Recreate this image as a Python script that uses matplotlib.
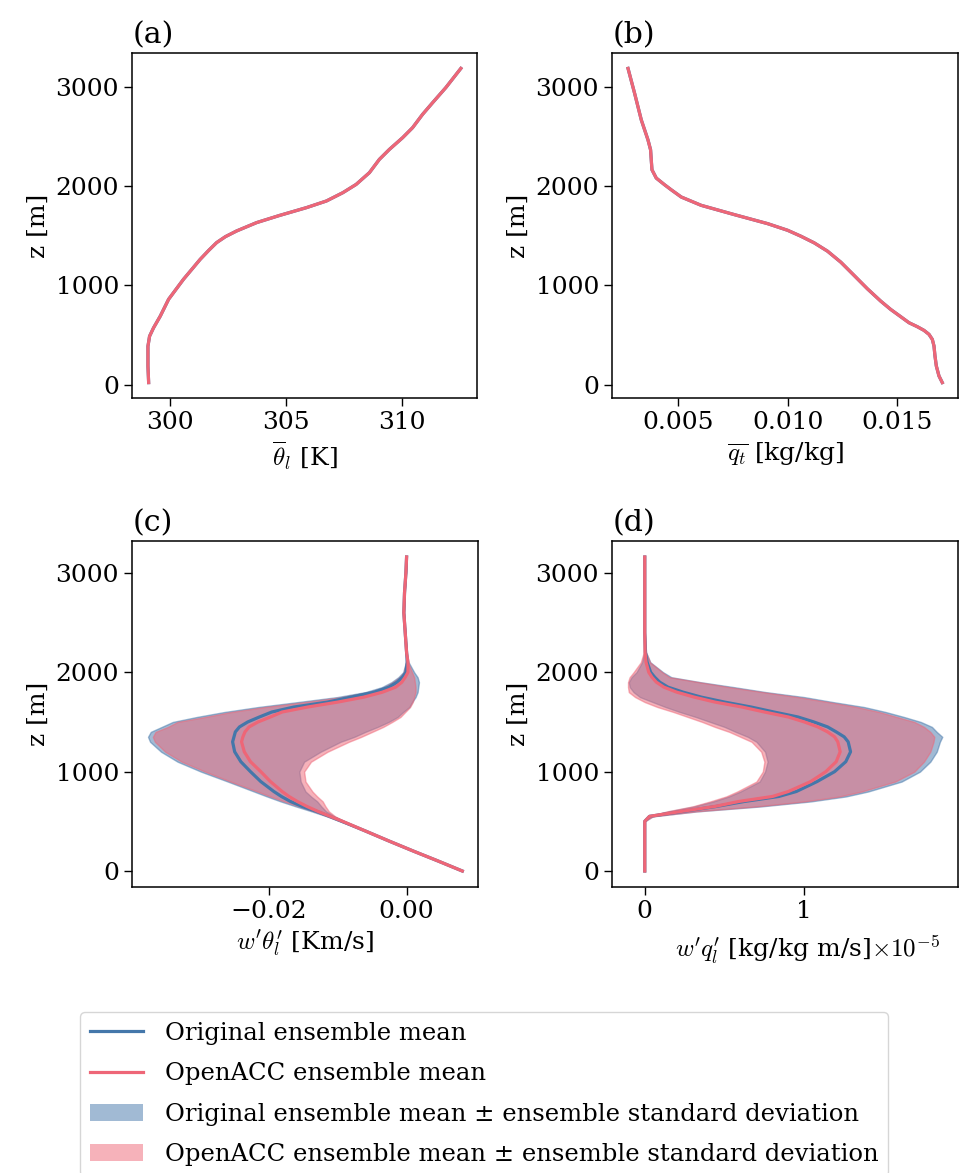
import matplotlib
matplotlib.use("Agg")
import matplotlib.pyplot as plt
from matplotlib.lines import Line2D
from matplotlib.patches import Patch

# ---------------- data ----------------
# (a) mean liquid potential temperature profile [K]
z_theta = [20, 185, 386, 487, 571, 689, 859, 1060, 1261, 1352, 1430, 1490, 1547, 1631,
           1704, 1782, 1849, 1933, 2016, 2134, 2268, 2368, 2486, 2587, 2721, 2838,
           2990, 3184]
theta_orig = [299.07, 299.04, 299.04, 299.11, 299.28, 299.57, 299.93, 300.57, 301.29,
              301.66, 302.00, 302.38, 302.86, 303.72, 304.72, 305.87, 306.73, 307.44,
              308.01, 308.58, 309.01, 309.44, 310.01, 310.44, 310.87, 311.30, 311.87,
              312.52]
theta_acc = list(theta_orig)  # visually identical to the original run

# (b) mean total water mixing ratio [kg/kg]
z_qt = [20, 87, 188, 289, 389, 456, 507, 547, 584, 624, 685, 758, 842, 966, 1101,
        1235, 1346, 1430, 1497, 1557, 1624, 1715, 1809, 1893, 1966, 2017, 2084, 2168,
        2268, 2369, 2470, 2671, 2940, 3191]
qt_orig = [0.017045, 0.016894, 0.016773, 0.016712, 0.016667, 0.016591, 0.016439,
           0.016212, 0.015909, 0.015530, 0.015152, 0.014697, 0.014242, 0.013636,
           0.013030, 0.012424, 0.011818, 0.011212, 0.010606, 0.010000, 0.009091,
           0.007576, 0.006061, 0.005152, 0.004695, 0.004391, 0.004014, 0.003818,
           0.003786, 0.003755, 0.003636, 0.003332, 0.003027, 0.002727]
qt_acc = list(qt_orig)

# (c), (d) flux profiles on a common height grid [m]
z_flux = [0, 100, 200, 300, 400, 500, 550, 600, 650, 700, 750, 800, 900, 1000, 1100,
          1200, 1300, 1350, 1400, 1450, 1500, 1550, 1600, 1650, 1700, 1750, 1800,
          1850, 1900, 1950, 2000, 2100, 2200, 2400, 2600, 2800, 3000, 3160]

# (c) w'theta_l' [K m/s]
wth_orig_mean = [0.0081, 0.0046, 0.0010, -0.0025, -0.0059, -0.0094, -0.0112, -0.0131,
                 -0.0152, -0.0169, -0.0182, -0.0193, -0.0212, -0.0227, -0.0241, -0.0250,
                 -0.0253, -0.0251, -0.0249, -0.0243, -0.0231, -0.0214, -0.0196, -0.0164,
                 -0.0115, -0.0081, -0.0047, -0.0026, -0.0014, -0.0006, -0.0001, 0.0001,
                 0.0000, -0.0002, -0.0004, -0.0003, -0.0001, 0.0000]
wth_orig_lo = [0.0081, 0.0046, 0.0010, -0.0025, -0.0059, -0.0097, -0.0116, -0.0138,
               -0.0161, -0.0183, -0.0203, -0.0222, -0.0260, -0.0299, -0.0333, -0.0357,
               -0.0373, -0.0376, -0.0372, -0.0356, -0.0340, -0.0305, -0.0265, -0.0216,
               -0.0158, -0.0101, -0.0060, -0.0036, -0.0022, -0.0012, -0.0005, -0.0001,
               0.0000, -0.0002, -0.0004, -0.0003, -0.0001, 0.0000]
wth_orig_hi = [0.0081, 0.0046, 0.0010, -0.0025, -0.0059, -0.0091, -0.0105, -0.0117,
               -0.0124, -0.0130, -0.0139, -0.0147, -0.0154, -0.0156, -0.0149, -0.0125,
               -0.0096, -0.0076, -0.0060, -0.0042, -0.0026, -0.0013, -0.0005, 0.0004,
               0.0008, 0.0013, 0.0016, 0.0017, 0.0018, 0.0016, 0.0011, 0.0003,
               0.0000, -0.0002, -0.0004, -0.0003, -0.0001, 0.0000]
wth_acc_mean = [0.0081, 0.0046, 0.0010, -0.0025, -0.0059, -0.0093, -0.0111, -0.0129,
                -0.0145, -0.0159, -0.0171, -0.0181, -0.0198, -0.0212, -0.0227, -0.0236,
                -0.0240, -0.0238, -0.0235, -0.0229, -0.0216, -0.0198, -0.0181, -0.0144,
                -0.0100, -0.0062, -0.0035, -0.0016, -0.0007, -0.0002, 0.0002, 0.0002,
                0.0000, -0.0002, -0.0004, -0.0003, -0.0001, 0.0000]
wth_acc_lo = [0.0081, 0.0046, 0.0010, -0.0025, -0.0059, -0.0096, -0.0115, -0.0134,
              -0.0156, -0.0178, -0.0198, -0.0217, -0.0256, -0.0293, -0.0327, -0.0351,
              -0.0366, -0.0369, -0.0365, -0.0347, -0.0333, -0.0293, -0.0255, -0.0206,
              -0.0148, -0.0094, -0.0055, -0.0032, -0.0020, -0.0010, -0.0004, -0.0001,
              0.0000, -0.0002, -0.0004, -0.0003, -0.0001, 0.0000]
wth_acc_hi = [0.0081, 0.0046, 0.0010, -0.0025, -0.0059, -0.0090, -0.0104, -0.0113,
              -0.0118, -0.0122, -0.0130, -0.0137, -0.0147, -0.0149, -0.0139, -0.0115,
              -0.0084, -0.0066, -0.0050, -0.0034, -0.0021, -0.0009, -0.0002, 0.0005,
              0.0009, 0.0011, 0.0013, 0.0013, 0.0012, 0.0011, 0.0008, 0.0002,
              0.0000, -0.0002, -0.0004, -0.0003, -0.0001, 0.0000]

# (d) w'q_l' [1e-5 kg/kg m/s]
wq_orig_mean = [0, 0, 0, 0, 0, 0, 0.03, 0.24, 0.45, 0.625, 0.84, 0.95, 1.08, 1.19,
                1.26, 1.29, 1.275, 1.25, 1.20, 1.146, 1.06, 0.96, 0.81, 0.667, 0.50,
                0.354, 0.24, 0.146, 0.094, 0.0625, 0.037, 0.015, 0.004, 0, 0, 0, 0, 0]
wq_orig_lo = [0, 0, 0, 0, 0, 0, 0.02, 0.15, 0.31, 0.43, 0.527, 0.60, 0.72, 0.754,
              0.77, 0.754, 0.70, 0.646, 0.57, 0.50, 0.41, 0.32, 0.22, 0.13, 0.05,
              -0.03, -0.07, -0.094, -0.10, -0.083, -0.052, -0.017, -0.004, 0, 0, 0, 0, 0]
wq_orig_hi = [0, 0, 0, 0, 0, 0, 0.05, 0.33, 0.73, 1.04, 1.26, 1.40, 1.61, 1.725,
              1.79, 1.83, 1.85, 1.865, 1.83, 1.80, 1.73, 1.625, 1.51, 1.375, 1.18,
              1.00, 0.76, 0.56, 0.35, 0.167, 0.115, 0.035, 0.008, 0, 0, 0, 0, 0]
wq_acc_mean = [0, 0, 0, 0, 0, 0, 0.03, 0.23, 0.44, 0.59, 0.80, 0.90, 1.04, 1.135,
               1.20, 1.225, 1.21, 1.19, 1.146, 1.085, 1.00, 0.90, 0.75, 0.61, 0.44,
               0.31, 0.20, 0.12, 0.073, 0.045, 0.025, 0.008, 0.002, 0, 0, 0, 0, 0]
wq_acc_lo = [0, 0, 0, 0, 0, 0, 0.02, 0.14, 0.30, 0.41, 0.51, 0.58, 0.70, 0.74,
             0.75, 0.73, 0.67, 0.60, 0.53, 0.44, 0.36, 0.27, 0.18, 0.08, 0.0,
             -0.06, -0.10, -0.105, -0.105, -0.095, -0.07, -0.025, -0.006, 0, 0, 0, 0, 0]
wq_acc_hi = [0, 0, 0, 0, 0, 0, 0.05, 0.32, 0.70, 1.00, 1.22, 1.36, 1.57, 1.69,
             1.75, 1.79, 1.81, 1.815, 1.79, 1.75, 1.69, 1.58, 1.47, 1.33, 1.15,
             0.96, 0.74, 0.53, 0.34, 0.155, 0.11, 0.033, 0.008, 0, 0, 0, 0, 0]

# ticks / labels
z_ticks = [0, 1000, 2000, 3000]
theta_ticks = [300, 305, 310]
qt_ticks = [0.005, 0.010, 0.015]
qt_ticklabels = ["0.005", "0.010", "0.015"]
wth_ticks = [-0.02, 0.0]
wth_ticklabels = ["\u22120.02", "0.00"]
wq_ticks = [0, 1]
wq_ticklabels = ["0", "1"]
panel_titles = ["(a)", "(b)", "(c)", "(d)"]
xlabels = [r"$\overline{\theta}_l$ [K]", r"$\overline{q_t}$ [kg/kg]",
           r"$w'\theta_l'$ [Km/s]", r"$w'q_l'$ [kg/kg m/s]$\times10^{-5}$"]
legend_labels = ["Original ensemble mean", "OpenACC ensemble mean",
                 "Original ensemble mean \u00b1 ensemble standard deviation",
                 "OpenACC ensemble mean \u00b1 ensemble standard deviation"]

# ---------------- style ----------------
BLUE = "#4477AA"
RED = "#EE6677"
plt.rcParams.update({
    "font.family": ["DejaVu Serif"],
    "mathtext.fontset": "cm",
    "font.size": 18,
    "axes.linewidth": 1.1,
    "xtick.major.size": 6,
    "ytick.major.size": 6,
    "xtick.major.width": 1.0,
    "ytick.major.width": 1.0,
})

fig = plt.figure(figsize=(9.6, 11.73), dpi=100)
W, H = 960.0, 1173.0
def pos(l, t, r, b):
    return [l / W, 1 - b / H, (r - l) / W, (b - t) / H]

ax_a = fig.add_axes(pos(132.3, 52.7, 476.5, 398.3))
ax_b = fig.add_axes(pos(612.3, 52.7, 958.0, 398.3))
ax_c = fig.add_axes(pos(132.3, 541.3, 478.0, 886.7))
ax_d = fig.add_axes(pos(612.3, 541.3, 958.0, 886.7))
axes = [ax_a, ax_b, ax_c, ax_d]

LW = 2.3
# (a)
ax_a.plot(theta_orig, z_theta, color=BLUE, lw=LW)
ax_a.plot(theta_acc, z_theta, color=RED, lw=LW)
ax_a.set_xticks(theta_ticks)
# (b)
ax_b.plot(qt_orig, z_qt, color=BLUE, lw=LW)
ax_b.plot(qt_acc, z_qt, color=RED, lw=LW)
ax_b.set_xticks(qt_ticks)
ax_b.set_xticklabels(qt_ticklabels)
# (c)
ax_c.fill_betweenx(z_flux, wth_orig_lo, wth_orig_hi, color=BLUE, alpha=0.5)
ax_c.fill_betweenx(z_flux, wth_acc_lo, wth_acc_hi, color=RED, alpha=0.5)
ax_c.plot(wth_orig_mean, z_flux, color=BLUE, lw=LW)
ax_c.plot(wth_acc_mean, z_flux, color=RED, lw=LW)
ax_c.set_xticks(wth_ticks)
ax_c.set_xticklabels(wth_ticklabels)
# (d)
ax_d.fill_betweenx(z_flux, wq_orig_lo, wq_orig_hi, color=BLUE, alpha=0.5)
ax_d.fill_betweenx(z_flux, wq_acc_lo, wq_acc_hi, color=RED, alpha=0.5)
ax_d.plot(wq_orig_mean, z_flux, color=BLUE, lw=LW)
ax_d.plot(wq_acc_mean, z_flux, color=RED, lw=LW)
ax_d.set_xticks(wq_ticks)
ax_d.set_xticklabels(wq_ticklabels)

for ax, t, xl in zip(axes, panel_titles, xlabels):
    ax.set_yticks(z_ticks)
    ax.set_ylabel("z [m]")
    ax.set_xlabel(xl)
    ax.set_title(t, loc="left", pad=7)
ax_d.xaxis.set_label_coords(0.565, -0.135)

handles = [Line2D([], [], color=BLUE, lw=LW), Line2D([], [], color=RED, lw=LW),
           Patch(facecolor=BLUE, alpha=0.5, edgecolor="none"),
           Patch(facecolor=RED, alpha=0.5, edgecolor="none")]
fig.legend(handles, legend_labels, loc="upper center",
           bbox_to_anchor=(484 / W, 1 - 1012 / H), frameon=True,
           borderaxespad=0.0, labelspacing=0.72, fontsize=17.5,
           handlelength=2.2, handletextpad=0.9)

fig.savefig("out.png", dpi=100)
